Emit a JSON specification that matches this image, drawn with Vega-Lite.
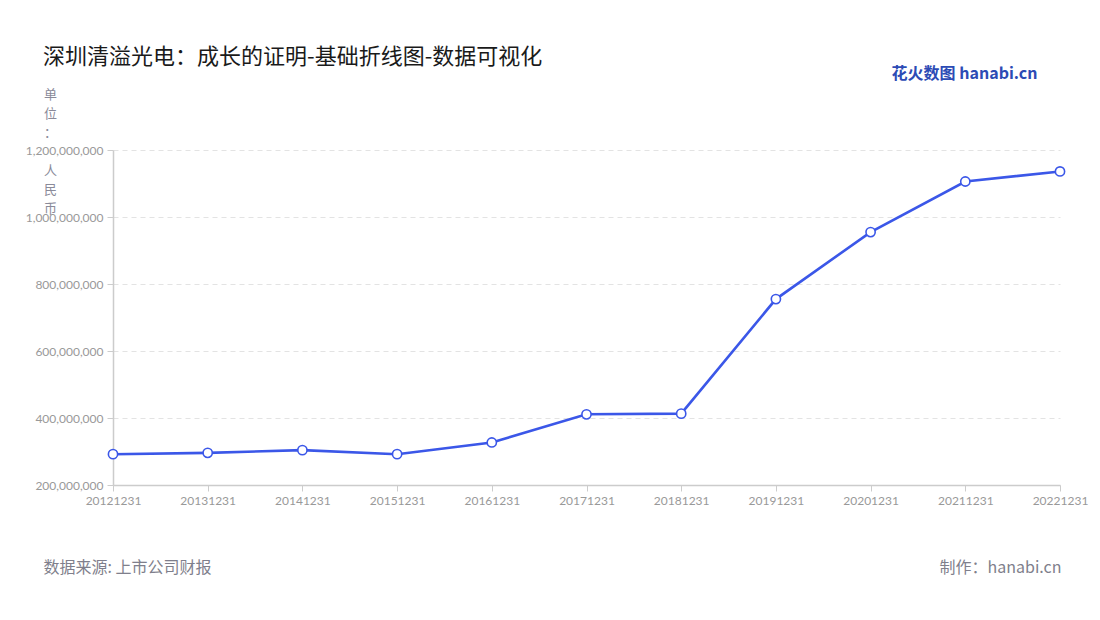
{
  "$schema": "https://vega.github.io/schema/vega-lite/v6.json",
  "autosize": "none",
  "width": 947,
  "height": 335,
  "padding": {"left": 113, "top": 150, "right": 40, "bottom": 135},
  "background": "white",
  "config": {
    "font": "Noto Sans CJK SC",
    "view": {"stroke": null}
  },
  "title": {
    "text": "深圳清溢光电：成长的证明-基础折线图-数据可视化",
    "anchor": "start",
    "frame": "group",
    "dx": -70,
    "dy": 4,
    "offset": 0,
    "fontSize": 22,
    "fontWeight": "normal",
    "color": "#1a1a1a",
    "font": "Noto Sans CJK SC"
  },
  "data": {
    "values": [
      {"date": "20121231", "value": 292000000},
      {"date": "20131231", "value": 296000000},
      {"date": "20141231", "value": 304000000},
      {"date": "20151231", "value": 292000000},
      {"date": "20161231", "value": 327000000},
      {"date": "20171231", "value": 411000000},
      {"date": "20181231", "value": 413000000},
      {"date": "20191231", "value": 755000000},
      {"date": "20201231", "value": 955000000},
      {"date": "20211231", "value": 1106000000},
      {"date": "20221231", "value": 1136000000}
    ]
  },
  "resolve": {"axis": {"x": "independent", "y": "independent"}},
  "layer": [
    {
      "mark": {"type": "line", "color": "#3b57e8", "strokeWidth": 2.6},
      "encoding": {
        "x": {
          "field": "date", "type": "ordinal",
          "scale": {"type": "point", "padding": 0},
          "axis": {
            "orient": "bottom",
            "labelAngle": 0,
            "labelColor": "#999999",
            "labelFontSize": 12,
            "labelFont": "Lato",
            "labelPadding": 4,
            "tickColor": "#cccccc",
            "tickSize": 6,
            "domainColor": "#cccccc",
            "domainWidth": 1.5,
            "grid": false,
            "title": "数据来源: 上市公司财报",
            "titleFont": "Noto Sans CJK SC",
            "titleFontSize": 16,
            "titleFontWeight": "normal",
            "titleColor": "#7f7f8c",
            "titleAnchor": "start",
            "titleAlign": "left",
            "titleBaseline": "middle",
            "titleX": -70,
            "titleY": 82
          }
        },
        "y": {
          "field": "value", "type": "quantitative",
          "scale": {"domain": [200000000, 1200000000], "nice": false, "zero": false},
          "axis": {
            "orient": "left",
            "values": [200000000, 400000000, 600000000, 800000000, 1000000000, 1200000000],
            "format": ",d",
            "labelColor": "#999999",
            "labelFontSize": 12,
            "labelFont": "Lato",
            "labelPadding": 4,
            "tickColor": "#cccccc",
            "tickSize": 6,
            "domainColor": "#cccccc",
            "domainWidth": 1.5,
            "grid": true,
            "gridColor": "#e3e3e3",
            "gridDash": [5, 4],
            "gridWidth": 1,
            "title": ["单", "位", "：", "\u200b", "人", "民", "币"],
            "titleAngle": 0,
            "titleFont": "Noto Sans CJK SC",
            "titleFontSize": 13,
            "titleFontWeight": "normal",
            "titleColor": "#8a8a99",
            "titleAlign": "center",
            "titleBaseline": "top",
            "titleLineHeight": 19,
            "titleX": -63,
            "titleY": -62
          }
        }
      }
    },
    {
      "mark": {"type": "point", "filled": true, "fill": "white", "stroke": "#3b57e8", "strokeWidth": 1.6, "size": 85, "opacity": 1},
      "encoding": {
        "x": {
          "field": "date", "type": "ordinal",
          "scale": {"type": "point", "padding": 0},
          "axis": {
            "orient": "top",
            "labels": false, "ticks": false, "domain": false, "grid": false,
            "title": "花火数图 hanabi.cn",
            "titleFont": "Noto Sans CJK SC",
            "titleFontSize": 16,
            "titleFontWeight": "bold",
            "titleColor": "#2c4bb5",
            "titleAlign": "right",
            "titleBaseline": "middle",
            "titleX": 924,
            "titleY": -77
          }
        },
        "y": {
          "field": "value", "type": "quantitative",
          "axis": {
            "orient": "right",
            "labels": false, "ticks": false, "domain": false, "grid": false,
            "title": "制作：hanabi.cn",
            "titleAngle": 0,
            "titleFont": "Noto Sans CJK SC",
            "titleFontSize": 16,
            "titleFontWeight": "normal",
            "titleColor": "#7f7f8c",
            "titleAlign": "right",
            "titleBaseline": "middle",
            "titleX": 1,
            "titleY": 417
          }
        }
      }
    }
  ]
}
